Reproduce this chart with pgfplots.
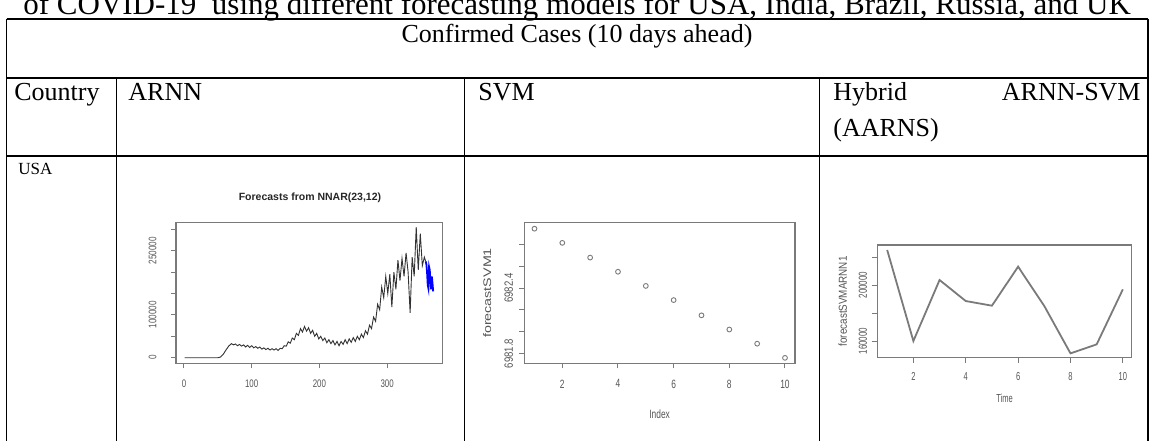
\documentclass[border=0pt]{standalone}
\usepackage{fontspec}
\setmainfont{Liberation Serif}
\newfontfamily\rsans{Liberation Sans}
\usepackage{pgfplots}
\pgfplotsset{compat=1.18}

\definecolor{rgray}{HTML}{7A7A7A}
\definecolor{rtext}{HTML}{555555}

% R-like base plot look, shared by the three small plots
\pgfplotsset{
  rplot/.style={
    scale only axis,
    axis line style={draw=rgray, line width=0.6pt},
    tick style={draw=rgray, line width=0.5pt},
    tick align=outside,
    major tick length=2.5pt,
    xtick pos=bottom, ytick pos=left,
    scaled x ticks=false, scaled y ticks=false,
    /pgf/number format/assume math mode=true,
    clip=false,
    xticklabel style={text=rtext, inner sep=0pt, anchor=north},
    yticklabel style={text=rtext, inner sep=0pt, rotate=90, anchor=south},
    xlabel style={text=rtext, inner sep=0pt},
    ylabel style={text=rtext, inner sep=0pt},
  },
}

\begin{document}
\begin{tikzpicture}
\useasboundingbox (0,0) rectangle (574.5pt,220pt);
\clip (0,0) rectangle (574.5pt,220pt);

% table, drawn in pixel units of the reference (y down)
\begin{scope}[x=0.5pt, y=-0.5pt, shift={(0pt,220pt)}]
  \draw[line width=0.6pt] (6.7,19) -- (1148,19);
  \draw[line width=0.6pt] (6.7,78) -- (1148,78);
  \draw[line width=0.6pt] (6.7,156) -- (1148,156);
  \draw[line width=0.6pt] (6.7,19) -- (6.7,450);
  \draw[line width=0.6pt] (1148,19) -- (1148,450);
  \draw[line width=0.6pt] (116.7,78) -- (116.7,450);
  \draw[line width=0.6pt] (464.3,78) -- (464.3,450);
  \draw[line width=0.6pt] (819.3,78) -- (819.3,450);

  \node[anchor=base west, inner sep=0pt, font=\fontsize{15.5}{18}\selectfont] at (23,15)
    {of COVID-19\ \ using different forecasting models for USA, India, Brazil, Russia, and UK};
  \node[anchor=base, inner sep=0pt, font=\fontsize{13}{15}\selectfont] at (577,43)
    {Confirmed Cases (10 days ahead)};
  \begin{scope}[every node/.style={anchor=base west, inner sep=0pt, font=\fontsize{13}{15}\selectfont}]
    \node at (14,100) {Country};
    \node at (128,100) {ARNN};
    \node at (478,100) {SVM};
    \node at (833,100) {Hybrid};
    \node[anchor=base east] at (1141,100) {ARNN-SVM};
    \node at (833,136) {(AARNS)};
  \end{scope}
  \node[anchor=base west, inner sep=0pt, font=\fontsize{8.5}{10}\selectfont] at (18,174) {USA};

  \node[anchor=base, inner sep=0pt, text=black!85, font=\rsans\bfseries\fontsize{5.25}{6}\selectfont] at (310,200)
    {Forecasts from NNAR(23,12)};
\end{scope}

% ARNN: NNAR forecasts
\begin{axis}[rplot,
  at={(88pt,38.35pt)}, anchor=south west,
  width=133.35pt, height=70.3pt,
  xmin=-11.8, xmax=382.1, ymin=-13080, ymax=315400,
  xtick={0,100,200,300}, xticklabels={0,100,200,300},
  ytick={0,50000,100000,150000,200000,250000,300000},
  yticklabels={0,,100000,,,250000,},
  xticklabel style={font=\rsans\fontsize{5.5}{6}\selectfont, xscale=0.72},
  yticklabel style={font=\rsans\fontsize{5.5}{6}\selectfont, xscale=0.74},
  xticklabel shift=5.5pt, yticklabel shift=7pt,
]
\addplot[black!80, line width=0.45pt] coordinates {
(1,0)(50,0)(54,1500)(58,8000)(62,18000)(66,27000)(70,33000)(73,30000)(76,32000)(79,28000)
(82,31000)(85,27000)(88,30000)(91,25000)(94,29000)(97,24000)(100,28000)(103,23000)(106,26000)
(109,22000)(112,25000)(115,20000)(118,23000)(121,19000)(124,22000)(127,18000)(130,21000)
(133,18000)(136,21000)(139,17000)(142,22000)(145,21000)(148,28000)(151,27000)(154,37000)
(157,34000)(160,46000)(163,42000)(166,57000)(169,52000)(172,68000)(175,60000)(178,73000)
(181,62000)(184,70000)(187,57000)(190,64000)(193,50000)(196,57000)(199,44000)(202,50000)
(205,40000)(208,46000)(211,35000)(214,42000)(217,33000)(220,40000)(223,30000)(226,38000)
(229,28000)(232,38000)(235,31000)(238,42000)(241,33000)(244,44000)(247,36000)(250,47000)
(253,38000)(256,50000)(259,42000)(262,55000)(265,47000)(268,63000)(271,55000)(274,76000)
(277,68000)(280,95000)(283,85000)(286,125000)(289,112000)(292,165000)(295,140000)
(298,190000)(301,150000)(304,195000)(307,118000)(310,200000)(313,160000)(316,228000)
(319,180000)(322,232000)(325,190000)(328,245000)(331,200000)(334,105000)(337,235000)
(340,190000)(343,305000)(346,205000)(349,290000)(352,215000)(355,235000)(357,225000)
};
\addplot[blue, line width=0.9pt] coordinates {
(357,225000)(358,218000)(359,200000)(360,170000)(361,162000)(362,212000)(363,205000)
(364,178000)(365,160000)(366,190000)(367,175000)(368,155000)
};
\end{axis}

% SVM forecasts
\begin{axis}[rplot,
  at={(262.15pt,38.35pt)}, anchor=south west,
  width=135.35pt, height=70.3pt,
  xmin=0.635, xmax=10.36, ymin=6981.71, ymax=6983.0,
  xtick={2,4,6,8,10}, xticklabels={2,4,6,8,10},
  ytick={6981.8,6982.0,6982.2,6982.4,6982.6,6982.8},
  yticklabels={6981.8,,,6982.4,,},
  xticklabel style={font=\rsans\fontsize{6}{7}\selectfont, xscale=0.7},
  yticklabel style={font=\rsans\fontsize{6}{7}\selectfont, xscale=0.8},
  xticklabel shift=5.5pt, yticklabel shift=3pt,
  xlabel={Index}, ylabel={forecastSVM1},
  xlabel style={font=\rsans\fontsize{6}{7}\selectfont, xscale=0.7,
    at={(axis description cs:0.5,0)}, anchor=north, yshift=-23pt},
  ylabel style={font=\rsans\fontsize{5.5}{7}\selectfont, xscale=1.3,
    at={(axis description cs:-0.1204,0.5)}, anchor=south},
]
\addplot[only marks, mark=o, mark size=1.2pt, mark options={draw=rgray, line width=0.45pt}] coordinates {
(1,6982.945)(2,6982.815)(3,6982.68)(4,6982.55)(5,6982.42)(6,6982.29)(7,6982.15)(8,6982.02)(9,6981.89)(10,6981.76)
};
\end{axis}

% Hybrid ARNN-SVM forecasts
\begin{axis}[rplot,
  at={(438.67pt,41.15pt)}, anchor=south west,
  width=127.2pt, height=56.35pt,
  xmin=0.624, xmax=10.34, ymin=148100, ymax=228570,
  xtick={2,4,6,8,10}, xticklabels={2,4,6,8,10},
  ytick={160000,180000,200000,220000},
  yticklabels={160000,,200000,},
  xticklabel style={font=\rsans\fontsize{5.8}{7}\selectfont, xscale=0.65},
  yticklabel style={font=\rsans\fontsize{5.8}{7}\selectfont, xscale=0.69},
  xticklabel shift=4.5pt, yticklabel shift=2.5pt,
  xlabel={Time}, ylabel={forecastSVMARNN1},
  xlabel style={font=\rsans\fontsize{5.8}{7}\selectfont, xscale=0.65,
    at={(axis description cs:0.5,0)}, anchor=north, yshift=-17.8pt},
  ylabel style={font=\rsans\fontsize{5.8}{7}\selectfont, xscale=0.85,
    at={(axis description cs:-0.118,0.5)}, anchor=south},
]
\addplot[rgray, line width=0.9pt] coordinates {
(1,225000)(2,160000)(3,203570)(4,188570)(5,185240)(6,213100)(7,185000)(8,151190)(9,157620)(10,196900)
};
\end{axis}
\end{tikzpicture}
\end{document}
